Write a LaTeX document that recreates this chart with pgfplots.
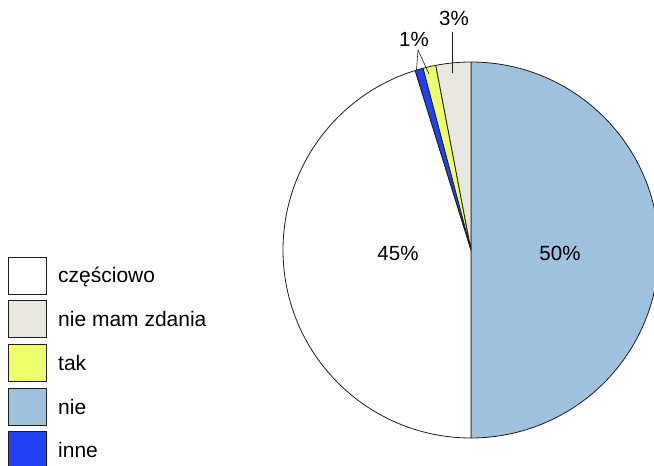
\documentclass[border=0pt]{standalone}
\usepackage{pgfplots}
\usepackage{pgfplotstable}
\pgfplotsset{compat=1.18}
\usepackage{fontspec}
\setmainfont{Liberation Sans}
\definecolor{cnie}{RGB}{160,193,222}
\definecolor{cczes}{RGB}{255,255,255}
\definecolor{cinne}{RGB}{35,64,245}
\definecolor{ctak}{RGB}{237,255,107}
\definecolor{cnm}{RGB}{232,232,225}
\definecolor{edge}{RGB}{30,30,30}
\pgfplotstableread{
name value
nie 50.0
czesciowo 45.2
inne 0.7
tak 1.1
niemam 3.0
}\piedata
\pgfplotstablegetelem{0}{value}\of\piedata \let\vA\pgfplotsretval
\pgfplotstablegetelem{1}{value}\of\piedata \let\vB\pgfplotsretval
\pgfplotstablegetelem{2}{value}\of\piedata \let\vC\pgfplotsretval
\pgfplotstablegetelem{3}{value}\of\piedata \let\vD\pgfplotsretval
\pgfplotstablegetelem{4}{value}\of\piedata \let\vE\pgfplotsretval
\pgfmathsetmacro{\angA}{90}
\pgfmathsetmacro{\angB}{\angA-3.6*\vA}
\pgfmathsetmacro{\angC}{\angB-3.6*\vB}
\pgfmathsetmacro{\angD}{\angC-3.6*\vC}
\pgfmathsetmacro{\angE}{\angD-3.6*\vD}
\pgfmathsetmacro{\angF}{\angE-3.6*\vE}
\begin{document}
\begin{tikzpicture}
\begin{axis}[hide axis, scale only axis, width=654pt, height=466pt,
  xmin=0, xmax=654, ymin=0, ymax=466, clip=true]
\def\slice#1#2#3{\draw[fill=#3, draw=edge, line width=0.8pt, line join=round]
  (axis cs:471,216) -- ++(#1:188pt) arc[start angle=#1, end angle=#2, radius=188pt] -- cycle;}
\slice{\angA}{\angB}{cnie}
\slice{\angB}{\angC}{cczes}
\slice{\angC}{\angD}{cinne}
\slice{\angD}{\angE}{ctak}
\slice{\angE}{\angF}{cnm}
% labels
\node[anchor=base, font=\fontsize{20.5}{24}\selectfont] at (axis cs:560,205) {50\%};
\node[anchor=base, font=\fontsize{20.5}{24}\selectfont] at (axis cs:398,205) {45\%};
\node[anchor=base, font=\fontsize{20.5}{24}\selectfont] at (axis cs:454,440) {3\%};
\node[anchor=base, font=\fontsize{20.5}{24}\selectfont] at (axis cs:414,419) {1\%};
\draw[edge, line width=0.6pt] (axis cs:452,434) -- (axis cs:452,393);
\draw[edge, line width=0.6pt] (axis cs:418,416) -- (axis cs:416.5,396);
\draw[edge, line width=0.6pt] (axis cs:418,416) -- (axis cs:429,392);
% legend
\def\legrow#1#2#3{%
  \draw[fill=#2, draw=edge, line width=0.8pt] (axis cs:8,{466-#1}) rectangle (axis cs:46,{466-#1-37});
  \node[anchor=base west, inner sep=0pt, font=\fontsize{21}{24}\selectfont] at (axis cs:58,{466-#1-18.5-7.5}) {#3};}
\legrow{257}{cczes}{częściowo}
\legrow{300.7}{cnm}{nie mam zdania}
\legrow{344.4}{ctak}{tak}
\legrow{388.1}{cnie}{nie}
\legrow{431.8}{cinne}{inne}
\end{axis}
\pgfresetboundingbox
\useasboundingbox (current axis.south west) rectangle (current axis.north east);
\end{tikzpicture}
\end{document}
